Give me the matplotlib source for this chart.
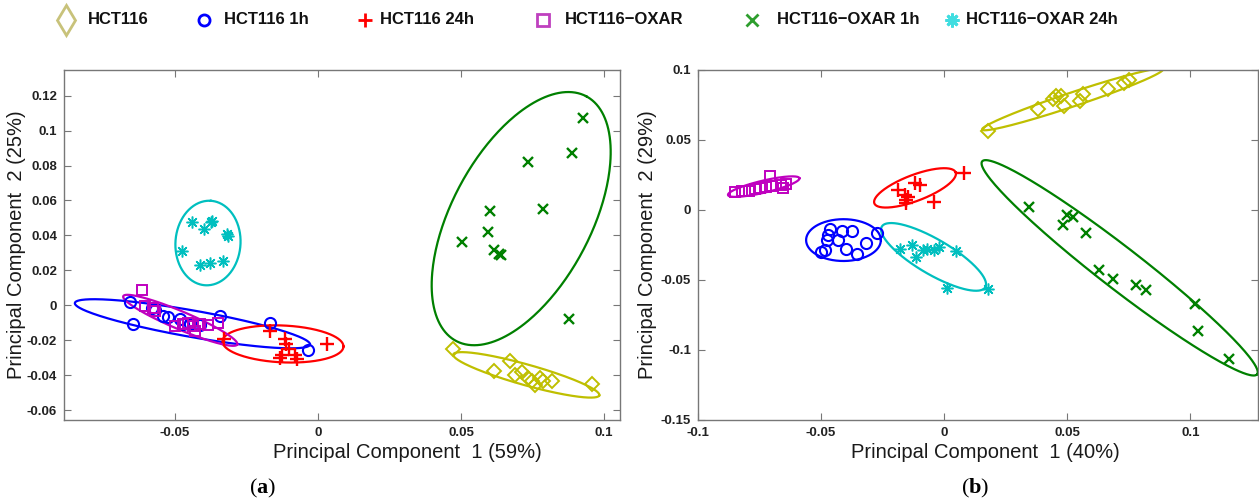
import numpy as np
import matplotlib
matplotlib.use("Agg")
import matplotlib.pyplot as plt
from matplotlib.ticker import FuncFormatter

plt.rcParams['font.family'] = ['Liberation Sans', 'DejaVu Sans']
plt.rcParams['mathtext.fontset'] = 'custom'
plt.rcParams['mathtext.bf'] = 'Liberation Serif:bold'
plt.rcParams['mathtext.rm'] = 'Liberation Serif'

# ---------------- data: panel (a) ----------------
a_hct116_x = [0.0471, 0.0671, 0.0616, 0.0689, 0.0712, 0.0735, 0.0747, 0.0759, 0.0776, 0.0788, 0.0817, 0.0957]
a_hct116_y = [-0.0253, -0.032, -0.0377, -0.0402, -0.0383, -0.0415, -0.0434, -0.0459, -0.0415, -0.0434, -0.0434, -0.0453]
a_1h_x = [-0.0657, -0.0646, -0.0581, -0.057, -0.0541, -0.0523, -0.0483, -0.0473, -0.0448, -0.0413, -0.0343, -0.0168, -0.0036]
a_1h_y = [0.0019, -0.011, -0.0015, -0.0025, -0.0059, -0.0066, -0.0078, -0.011, -0.011, -0.0114, -0.0063, -0.010, -0.0259]
a_24h_x = [-0.0328, -0.0168, -0.0115, -0.0112, -0.0127, -0.0133, -0.010, -0.008, -0.0074, 0.003]
a_24h_y = [-0.0192, -0.0148, -0.0196, -0.0219, -0.0287, -0.030, -0.0253, -0.0287, -0.0306, -0.0219]
a_ox_x = [-0.0616, -0.0605, -0.0576, -0.057, -0.050, -0.0471, -0.0453, -0.0436, -0.043, -0.0413, -0.0384, -0.0349]
a_ox_y = [0.009, -0.0002, -0.0015, -0.0034, -0.012, -0.011, -0.010, -0.012, -0.0148, -0.011, -0.0114, -0.010]
a_ox1h_x = [0.0926, 0.0887, 0.0733, 0.0786, 0.0601, 0.0595, 0.0502, 0.0616, 0.0633, 0.0640, 0.0879]
a_ox1h_y = [0.107, 0.0874, 0.0822, 0.0550, 0.0537, 0.0417, 0.0362, 0.0314, 0.0295, 0.029, -0.0078]
a_ox24h_x = [-0.0442, -0.0399, -0.0375, -0.0372, -0.0319, -0.0316, -0.0477, -0.0413, -0.0378, -0.0333]
a_ox24h_y = [0.0476, 0.0438, 0.0476, 0.0484, 0.0409, 0.0394, 0.0312, 0.0232, 0.0242, 0.0251]

# ellipses (a): centre, semi-diameter p, conjugate semi-diameter q (data units)
a_ell_center = [(0.07283, -0.03986), (-0.0439, -0.0106), (-0.01224, -0.02215),
                (-0.04815, -0.00862), (0.07105, 0.0496), (-0.03846, 0.03563)]
a_ell_p = [(0.02552, -0.0117), (0.0411, -0.0119), (0.02115, -0.00143),
           (0.01993, -0.01382), (0.02274, 0.07006), (0.0010, 0.02418)]
a_ell_q = [(-0.00098, -0.00571), (-0.00081, -0.00748), (0.0, -0.01056),
           (-0.00123, -0.00473), (-0.0215, 0.0186), (0.01135, -0.00124)]

# ---------------- data: panel (b) ----------------
b_hct116_x = [0.018, 0.0383, 0.0442, 0.0455, 0.0475, 0.0488, 0.0553, 0.0566, 0.0664, 0.073, 0.0749]
b_hct116_y = [0.0562, 0.0718, 0.079, 0.0813, 0.0813, 0.0742, 0.0778, 0.0826, 0.0862, 0.091, 0.0928]
b_1h_x = [-0.0463, -0.0415, -0.0375, -0.0476, -0.0431, -0.0319, -0.0486, -0.0397, -0.0356, -0.0273, -0.0499, -0.0473]
b_1h_y = [-0.0139, -0.0149, -0.0149, -0.0215, -0.0215, -0.0235, -0.0287, -0.0282, -0.0311, -0.0163, -0.0299, -0.018]
b_24h_x = [-0.0186, -0.016, -0.0153, -0.0146, -0.0118, -0.0097, -0.0042, 0.0082, -0.0157]
b_24h_y = [0.0144, 0.0108, 0.0072, 0.0095, 0.0192, 0.018, 0.006, 0.0264, 0.0048]
b_ox_x = [-0.085, -0.082, -0.0793, -0.0768, -0.0748, -0.0722, -0.0706, -0.0698, -0.0663, -0.0656, -0.0643]
b_ox_y = [0.0131, 0.0139, 0.0139, 0.0149, 0.0156, 0.0167, 0.0244, 0.0172, 0.018, 0.0156, 0.0187]
b_ox1h_x = [0.0344, 0.0481, 0.0501, 0.0523, 0.0577, 0.0628, 0.0684, 0.0779, 0.0821, 0.102, 0.103, 0.1158]
b_ox1h_y = [0.0024, -0.0108, -0.0036, -0.0048, -0.0163, -0.0431, -0.049, -0.0539, -0.0569, -0.067, -0.0862, -0.1065]
b_ox24h_x = [-0.0179, -0.0131, -0.0114, -0.0087, -0.0068, -0.0042, -0.0022, 0.0047, 0.0013, 0.018]
b_ox24h_y = [-0.0275, -0.0251, -0.0335, -0.0287, -0.0282, -0.0287, -0.0264, -0.0292, -0.0555, -0.0562]

b_ell_center = [(0.05216, 0.079), (-0.0409, -0.0215), (-0.01184, 0.0158),
                (-0.0733, 0.0167), (0.0713, -0.0413), (-0.0043, -0.0335)]
b_ell_p = [(0.03675, 0.02154), (0.01518, 0.0), (0.01653, 0.01099),
           (0.01451, 0.006), (0.05589, -0.07596), (0.02106, -0.02154)]
b_ell_q = [(0.00084, -0.00479), (0.0, 0.01493), (0.00174, -0.00876),
           (0.00052, -0.00421), (-0.0049, -0.01213), (-0.00335, -0.01099)]

# ---------------- labels / ticks ----------------
group_names = ['HCT116', 'HCT116 1h', 'HCT116 24h', 'HCT116\u2212OXAR', 'HCT116\u2212OXAR 1h', 'HCT116\u2212OXAR 24h']
a_xticks = [-0.05, 0, 0.05, 0.1]
a_yticks = [-0.06, -0.04, -0.02, 0, 0.02, 0.04, 0.06, 0.08, 0.1, 0.12]
b_xticks = [-0.1, -0.05, 0, 0.05, 0.1]
b_yticks = [-0.15, -0.1, -0.05, 0, 0.05, 0.1]
a_xlabel = 'Principal Component  1 (59%)'
a_ylabel = 'Principal Component  2 (25%)'
b_xlabel = 'Principal Component  1 (40%)'
b_ylabel = 'Principal Component  2 (29%)'

# ---------------- styles ----------------
colors = ['#BFBF00', '#0000FF', '#FF0000', '#BF00BF', '#008000', '#00BFBF']
markers = ['D', 'o', '+', 's', 'x', (8, 2, 0)]
msizes = [7.2, 8, 9.5, 7, 7, 8.5]
mews = [1.4, 1.5, 1.7, 1.4, 1.7, 1.1]

fig = plt.figure(figsize=(12.59, 5.0), dpi=100)
W, H = 1259, 500
ax_a = fig.add_axes([64 / W, 80 / H, 556 / W, 350 / H])
ax_b = fig.add_axes([698 / W, 80 / H, 560 / W, 350 / H])


def ellipse_curve(c, p, q, n=300):
    t = np.linspace(0, 2 * np.pi, n)
    x = c[0] + np.cos(t) * p[0] + np.sin(t) * q[0]
    y = c[1] + np.cos(t) * p[1] + np.sin(t) * q[1]
    return x, y


def draw_panel(ax, xs, ys, centers, ps, qs):
    for i in range(6):
        ex, ey = ellipse_curve(centers[i], ps[i], qs[i])
        ax.plot(ex, ey, color=colors[i], lw=1.6, zorder=2)
    for i in range(6):
        ax.plot(xs[i], ys[i], linestyle='none', marker=markers[i], ms=msizes[i],
                mfc='none', mec=colors[i], mew=mews[i], zorder=3)


draw_panel(ax_a,
           [a_hct116_x, a_1h_x, a_24h_x, a_ox_x, a_ox1h_x, a_ox24h_x],
           [a_hct116_y, a_1h_y, a_24h_y, a_ox_y, a_ox1h_y, a_ox24h_y],
           a_ell_center, a_ell_p, a_ell_q)
draw_panel(ax_b,
           [b_hct116_x, b_1h_x, b_24h_x, b_ox_x, b_ox1h_x, b_ox24h_x],
           [b_hct116_y, b_1h_y, b_24h_y, b_ox_y, b_ox1h_y, b_ox24h_y],
           b_ell_center, b_ell_p, b_ell_q)

fmt = FuncFormatter(lambda v, pos: '0' if abs(v) < 1e-12 else f'{v:g}')

ax_a.set_xlim(-0.0888, 0.1056)
ax_a.set_ylim(-0.0657, 0.1347)
ax_a.set_xticks(a_xticks)
ax_a.set_yticks(a_yticks)
ax_b.set_xlim(-0.1, 0.1275)
ax_b.set_ylim(-0.15, 0.1)
ax_b.set_xticks(b_xticks)
ax_b.set_yticks(b_yticks)

for ax, xl, yl, xlx in [(ax_a, a_xlabel, a_ylabel, 0.617), (ax_b, b_xlabel, b_ylabel, 0.514)]:
    ax.xaxis.set_major_formatter(fmt)
    ax.yaxis.set_major_formatter(fmt)
    ax.tick_params(direction='in', top=True, right=True, length=5, width=0.8,
                   color='#777777', labelsize=9.5, labelcolor='#222222', pad=5)
    for lab in ax.get_xticklabels() + ax.get_yticklabels():
        lab.set_fontweight('bold')
    for s in ax.spines.values():
        s.set_color('#777777')
        s.set_linewidth(1.0)
    ax.set_xlabel(xl, fontsize=14.5, color='#1a1a1a')
    ax.set_ylabel(yl, fontsize=14.5, color='#1a1a1a')
    ax.xaxis.set_label_coords(xlx, -0.065)

ax_a.yaxis.set_label_coords(-0.068, 0.5)
ax_b.yaxis.set_label_coords(-0.073, 0.5)

# ---------------- top legend ----------------
leg_marker_x = [66, 204, 365, 543, 752, 952]
leg_text_x = [88, 224, 380, 565, 777, 966]
leg_colors = ['#C8C27A', '#0000FF', '#FF0000', '#BF40BF', '#2E9E2E', '#40DDE0']
leg_markers = ['d', 'o', '+', 's', 'x', (8, 2, 0)]
leg_ms = [15, 8, 10, 9, 8, 10]
leg_ax = fig.add_axes([0, 0.9, 1, 0.1])
leg_ax.set_xlim(0, W)
leg_ax.set_ylim(0, 50)
leg_ax.axis('off')
for i in range(6):
    leg_ax.plot([leg_marker_x[i]], [30], linestyle='none', marker=leg_markers[i],
                ms=leg_ms[i], mfc='none', mec=leg_colors[i], mew=2)
    leg_ax.text(leg_text_x[i], 30, group_names[i], fontsize=12, fontweight='bold',
                va='center', ha='left', color='#111111')

# panel labels
for x, letter in [(263, 'a'), (975, 'b')]:
    fig.text(x / W, 1 - 488 / H, r'$\mathrm{(}\mathbf{' + letter + r'}\mathrm{)}$', fontsize=16,
             ha='center', va='center')

fig.savefig('out.png', dpi=100)
